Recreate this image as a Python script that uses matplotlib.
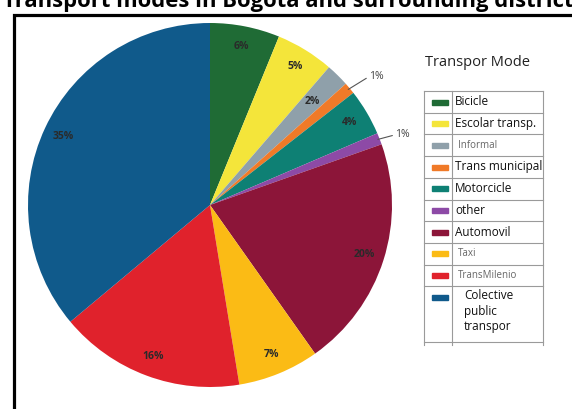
import matplotlib.pyplot as plt
import matplotlib.patches as mpatches
import numpy as np

# datos del grafico
modos = ['Bicicle', 'Escolar transp.', 'Informal', 'Trans municipal', 'Motorcicle',
         'other', 'Automovil', 'Taxi', 'TransMilenio', 'Colective\npublic\ntranspor']
porcentajes = [6, 5, 2, 1, 4, 1, 20, 7, 16, 35]
colores = ['#1f6b35', '#f4e53a', '#8fa0aa', '#f07a28', '#0e8074',
           '#8d4aa6', '#8c1539', '#fbbb15', '#e0222c', '#105a8b']
etiqueta_gris = ['Informal', 'Taxi', 'TransMilenio']

plt.rcParams['font.family'] = ['Open Sans', 'DejaVu Sans']
W, H = 572, 409
fig = plt.figure(figsize=(W / 100, H / 100), dpi=100)

# titulo (cortado arriba como en la imagen)
fig.text(3 / W, 1 - 7 / H, 'Transport modes in Bogotá and surrounding district',
         fontsize=15.8, fontweight='bold', ha='left', va='baseline')

# marco negro
marco = mpatches.Rectangle((14 / W, -0.05), 1.1, 1 - 15 / H + 0.05, transform=fig.transFigure,
                           fill=False, edgecolor='black', linewidth=2.3, clip_on=False)
fig.add_artist(marco)

# pastel
cx, cy, r = 210, 205, 182
ax = fig.add_axes([(cx - r) / W, (H - cy - r) / H, 2 * r / W, 2 * r / H])
total = sum(porcentajes)
wedges, texts, autotexts = ax.pie(
    porcentajes, colors=colores, startangle=90, counterclock=False,
    autopct=lambda p: f'{round(p * total / 100):.0f}%', pctdistance=0.89,
    textprops=dict(fontsize=7.5, color='#2a2a2a', fontweight='bold'))
ax.set_xlim(-1, 1)
ax.set_ylim(-1, 1)

for i, (w, t) in enumerate(zip(wedges, autotexts)):
    ang = np.deg2rad((w.theta1 + w.theta2) / 2)
    if porcentajes[i] == 2:
        t.set_position((0.8 * np.cos(ang), 0.8 * np.sin(ang)))
    if porcentajes[i] == 1:
        t.set_visible(False)
        x0, y0 = 0.99 * np.cos(ang), 0.99 * np.sin(ang)
        dist = 1.1 if i == 3 else 1.06
        ax.annotate('1%', xy=(x0, y0), xytext=(dist * np.cos(ang) + 0.03, dist * np.sin(ang)),
                    fontsize=7.5, color='#444444', ha='left', va='center',
                    arrowprops=dict(arrowstyle='-', color='#555555', lw=0.8,
                                    shrinkA=0, shrinkB=0, relpos=(0, 0.5)),
                    annotation_clip=False)

# leyenda en forma de tabla
fig.text(425 / W, 1 - 63 / H, 'Transpor Mode', fontsize=10.5, color='#222222',
         ha='left', va='center')
lx0, lx1, lx2 = 424, 452, 543
top, paso, fondo = 91, 21.7, 342
lg = fig.add_axes([0, 0, 1, 1], facecolor='none')
lg.set_xlim(0, W)
lg.set_ylim(H, 0)
lg.axis('off')
lc = '#9a9a9a'
for k in range(len(modos)):
    y = top + k * paso
    lg.plot([lx0, lx2], [y, y], color=lc, lw=0.8)
    lg.add_patch(mpatches.Rectangle((432, y + 8.5), 16, 5, color=colores[k]))
    if modos[k] in etiqueta_gris:
        lg.text(458, y + paso / 2, modos[k], fontsize=7, color='#666666', va='center')
    elif '\n' in modos[k]:
        lg.text(464, y + 3, modos[k], fontsize=8.5, color='#111111', va='top',
                linespacing=1.25)
    else:
        lg.text(455, y + paso / 2, modos[k], fontsize=8.5, color='#111111', va='center')
for x in (lx0, lx1, lx2):
    lg.plot([x, x], [top, fondo + 3], color=lc, lw=0.8)
lg.plot([lx0, lx2], [fondo, fondo], color=lc, lw=0.8)

fig.savefig('out.png', dpi=100)
